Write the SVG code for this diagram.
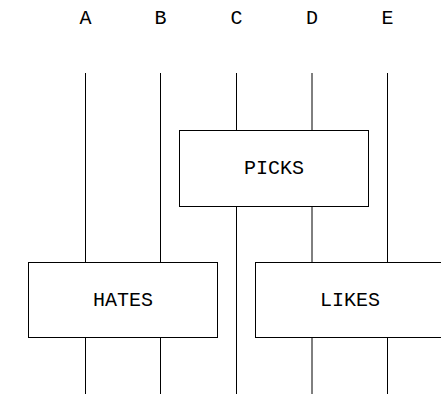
<svg xmlns="http://www.w3.org/2000/svg" width="441" height="394" viewBox="0 0 441 394">
<style>
.w{stroke:#000;stroke-width:1;fill:none}
.b{fill:#fff;stroke:#000;stroke-width:1}
.t{font-family:"Liberation Mono","DejaVu Sans Mono",monospace;font-size:20px;fill:#000;text-anchor:middle;dominant-baseline:central}
</style>
<rect width="441" height="394" fill="#fff"/>
<g id="labels">
<text class="t" x="85.5" y="18">A</text>
<text class="t" x="160.5" y="18">B</text>
<text class="t" x="236.5" y="18">C</text>
<text class="t" x="312" y="18">D</text>
<text class="t" x="387.5" y="18">E</text>
</g>
<g id="connectors">
<path class="w" d="M85.5 73V262.5M85.5 337.5V394"/>
<path class="w" d="M160.5 73V262.5M160.5 337.5V394"/>
<path class="w" d="M236.5 73V130.5M236.5 206.5V394"/>
<path class="w" d="M312 73V130.5M312 206.5V262.5M312 337.5V394"/>
<path class="w" d="M387.5 73V262.5M387.5 337.5V394"/>
</g>
<g id="picks">
<rect class="b" x="179.5" y="130.5" width="189" height="76"/>
<text class="t" x="274" y="168.5">PICKS</text>
</g>
<g id="hates">
<rect class="b" x="28.5" y="262.5" width="189" height="75"/>
<text class="t" x="123" y="300">HATES</text>
</g>
<g id="likes">
<rect class="b" x="255.5" y="262.5" width="189" height="75"/>
<text class="t" x="350" y="300">LIKES</text>
</g>
</svg>
